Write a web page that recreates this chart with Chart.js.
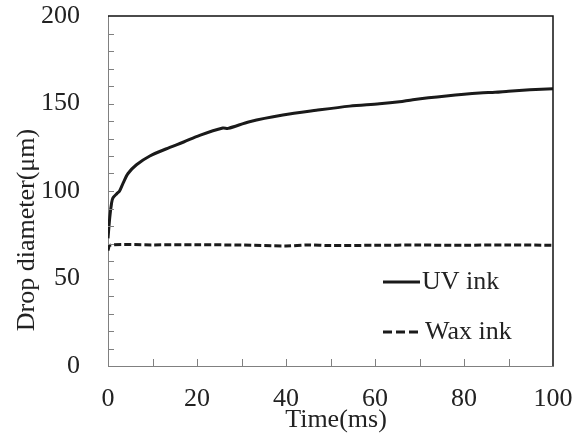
<!DOCTYPE html>
<html>
<head>
<meta charset="utf-8">
<script src="https://cdn.jsdelivr.net/npm/chart.js@4.4.1/dist/chart.umd.min.js"></script>
<style>
  body { margin: 0; background: #fff; }
  #wrap { width: 583px; height: 436px; }
</style>
</head>
<body>
<div id="wrap"><canvas id="chart" width="583" height="436"></canvas></div>
<script>
// values
const uvTime = [0, 0.4, 0.8, 1.1, 2, 2.6, 3.4, 4.5, 6.4, 9.4, 13, 17, 20.6, 25.8, 27, 31.8, 39.3, 46.8, 54.3, 61, 65.5, 68.5, 76, 83.5, 87, 90, 94.8, 100]
const uvDiameter = [73, 85, 93, 96, 98.5, 100, 104.5, 110, 115, 120, 124, 128, 131.8, 136, 135.8, 139.6, 143.4, 146.1, 148.5, 149.8, 151, 152.2, 154.3, 156, 156.4, 157, 157.8, 158.4]
const waxTime = [0, 0.5, 10, 20, 30, 40, 45, 50, 60, 70, 80, 90, 100]
const waxDiameter = [66, 69, 69.2, 69.3, 69.1, 68.6, 69.2, 68.8, 69, 69.1, 69, 69.2, 69]
const seriesLabels = ["UV ink", "Wax ink"]
const xTitle = "Time(ms)"
const yTitle = "Drop diameter(μm)"

const FONT = "'Liberation Serif', 'Times New Roman', serif"
const TEXT = "#222"
const AXIS = "#808080"

function toPoints(xs, ys){
    return xs.map((x, i) => ({x: x, y: ys[i]}))
}

// inside ticks, black frame, titles and the inset legend
const decorations = {
    id: "decorations",
    afterDatasetsDraw(chart){
        const ctx = chart.ctx
        const area = chart.chartArea
        const xs = chart.scales.x
        const ys = chart.scales.y
        ctx.save()

        ctx.strokeStyle = AXIS
        ctx.lineWidth = 1
        ctx.beginPath()
        for(let t of xs.ticks){
            if(t.value <= xs.min || t.value >= xs.max) continue
            const px = Math.round(xs.getPixelForValue(t.value)) + 0.5
            ctx.moveTo(px, area.bottom)
            ctx.lineTo(px, area.bottom - 7)
        }
        for(let t of ys.ticks){
            if(t.value <= ys.min || t.value >= ys.max) continue
            const py = Math.round(ys.getPixelForValue(t.value)) + 0.5
            ctx.moveTo(area.left, py)
            ctx.lineTo(area.left + 6, py)
        }
        ctx.stroke()

        ctx.strokeStyle = "#111"
        ctx.lineWidth = 1.5
        ctx.beginPath()
        ctx.moveTo(area.left, area.top)
        ctx.lineTo(area.right, area.top)
        ctx.lineTo(area.right, area.bottom)
        ctx.stroke()

        ctx.fillStyle = TEXT
        ctx.font = `26px ${FONT}`
        ctx.textAlign = "center"
        ctx.textBaseline = "middle"
        ctx.fillText(xTitle, 336, 420)
        ctx.save()
        ctx.translate(27, 230)
        ctx.rotate(-Math.PI / 2)
        ctx.fillText(yTitle, 0, 0)
        ctx.restore()

        // legend
        const rows = [
            {y: 282, x0: 383, x1: 420, textX: 422, dash: []},
            {y: 332, x0: 383, x1: 418, textX: 425, dash: [9, 4]}
        ]
        chart.data.datasets.forEach((ds, i) => {
            const r = rows[i]
            ctx.strokeStyle = ds.borderColor
            ctx.lineWidth = ds.borderWidth
            ctx.setLineDash(r.dash)
            ctx.beginPath()
            ctx.moveTo(r.x0, r.y)
            ctx.lineTo(r.x1, r.y)
            ctx.stroke()
            ctx.setLineDash([])
            ctx.textAlign = "left"
            ctx.fillText(ds.label, r.textX, r.y)
        })
        ctx.restore()
    }
}

const chart = new Chart(document.querySelector("#chart"), {
    type: "line",
    data: {
        datasets: [
            {
                label: seriesLabels[0],
                data: toPoints(uvTime, uvDiameter),
                borderColor: "#1a1a1a",
                borderWidth: 3,
                pointRadius: 0,
                tension: 0.3,
                fill: false
            },
            {
                label: seriesLabels[1],
                data: toPoints(waxTime, waxDiameter),
                borderColor: "#1a1a1a",
                borderWidth: 3,
                borderDash: [7, 3],
                pointRadius: 0,
                tension: 0.3,
                fill: false
            }
        ]
    },
    options: {
        responsive: false,
        animation: false,
        layout: { padding: { top: 16, right: 30, left: 0, bottom: 0 } },
        plugins: {
            legend: { display: false },
            tooltip: { enabled: false }
        },
        scales: {
            x: {
                type: "linear",
                min: 0,
                max: 100,
                grid: { display: false, drawTicks: false },
                border: { display: true, color: AXIS, width: 1 },
                ticks: {
                    stepSize: 10,
                    autoSkip: false,
                    maxRotation: 0,
                    padding: 18,
                    color: TEXT,
                    font: { family: FONT, size: 26 },
                    callback: v => v % 20 === 0 ? v : ""
                },
                afterFit: s => { s.height = 70; s.paddingLeft = 0; s.paddingRight = 0 }
            },
            y: {
                min: 0,
                max: 200,
                grid: { display: false, drawTicks: false },
                border: { display: true, color: AXIS, width: 1 },
                ticks: {
                    stepSize: 10,
                    autoSkip: false,
                    padding: 28,
                    color: TEXT,
                    font: { family: FONT, size: 26 },
                    callback: v => v % 50 === 0 ? v : ""
                },
                afterFit: s => { s.width = 108; s.paddingTop = 0; s.paddingBottom = 0 }
            }
        }
    },
    plugins: [decorations]
})
</script>
</body>
</html>
